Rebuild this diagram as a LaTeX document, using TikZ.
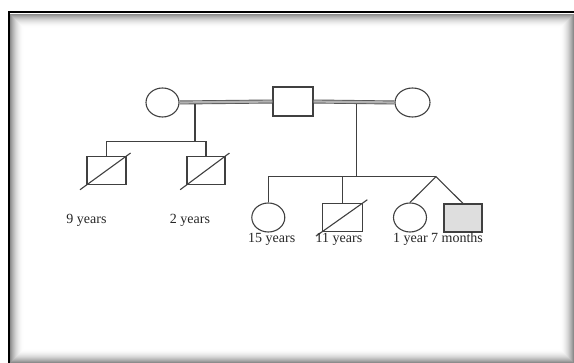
\documentclass[tikz,border=0pt]{standalone}
\usepackage{fontspec}
\setmainfont{Liberation Serif}
\usetikzlibrary{shapes.geometric,calc}
\begin{document}
\begin{tikzpicture}[x=1pt,y=-1pt,
  ln/.style={draw=black!75, line width=1.1pt},
  cpl/.style={draw=black!65, line width=0.9pt, double=black!30, double distance=2.2pt},
  fem/.style={ellipse, draw=black!75, line width=1.1pt, minimum width=33pt, minimum height=29pt, inner sep=0pt},
  mal/.style={rectangle, draw=black!75, line width=1.1pt, minimum width=39pt, minimum height=28pt, inner sep=0pt},
  lbl/.style={font=\fontsize{14}{16}\selectfont, text=black!85, inner sep=0pt}]
\useasboundingbox (0,0) rectangle (574,363);
\fill[white] (0,0) rectangle (574,363);
% frame with inner shadow
\foreach \i in {0,...,13} {
  \pgfmathsetmacro\p{45*(1-\i/14)^2}
  \draw[black!\p, line width=1.05pt] (10.5+\i,14.5+\i) rectangle (573.5-\i,362.5-\i);
}
\draw[black, line width=2pt] (9,363) -- (9,12.5) -- (574,12.5);
% parents
\node[fem] (gm1) at (162.5,102.5) {};
\node[mal] (gf) at (293,101.5) [minimum width=40pt, minimum height=29pt] {};
\node[fem] (gm2) at (412.5,102.5) [minimum width=35pt] {};
\draw[cpl] (gm1.east) -- (gf.west);
\draw[cpl] (gf.east) -- (gm2.west);
% first family
\coordinate (d1) at (195,104);
\coordinate (h1) at (195,141.7);
\node[mal] (s1) at (106.5,170.5) {};
\node[mal] (s2) at (206,170.5) [minimum width=38pt] {};
\draw[ln] (d1) -- (h1);
\draw[ln] (s1.north) |- (h1) -| (s2.north);
\draw[ln] ($(s1.south west)!-0.16!(s1.north east)$) -- ($(s1.north east)!-0.1!(s1.south west)$);
\draw[ln] ($(s2.south west)!-0.16!(s2.north east)$) -- ($(s2.north east)!-0.1!(s2.south west)$);
\node[lbl] (l9) at (86.5,220) {9 years};
\node[lbl] (l2) at (190,220) {2 years};
% second family
\coordinate (d2) at (356.5,104);
\coordinate (h2) at (356.5,176.7);
\coordinate (tw) at (436,176.7);
\node[fem] (c1) at (268.3,217.5) {};
\node[mal] (c2) at (342.7,217.2) [minimum width=40pt] {};
\node[fem] (c3) at (410,217.5) {};
\node[mal, fill=black!13] (c4) at (463,218) [minimum width=38pt] {};
\draw[ln] (d2) -- (h2);
\draw[ln] (c1.north) |- (tw);
\draw[ln] (c2.north) -- (c2.north |- h2);
\draw[ln] (c3.north) -- (tw) -- (c4.north);
\draw[ln] ($(c2.south west)!-0.15!(c2.north east)$) -- ($(c2.north east)!-0.1!(c2.south west)$);
\node[lbl] (l15) at (271.7,239.5) {15 years};
\node[lbl] (l11) at (339,239.5) {11 years};
\node[lbl] (l1) at (438,239.5) {1 year 7 months};
\end{tikzpicture}
\end{document}
